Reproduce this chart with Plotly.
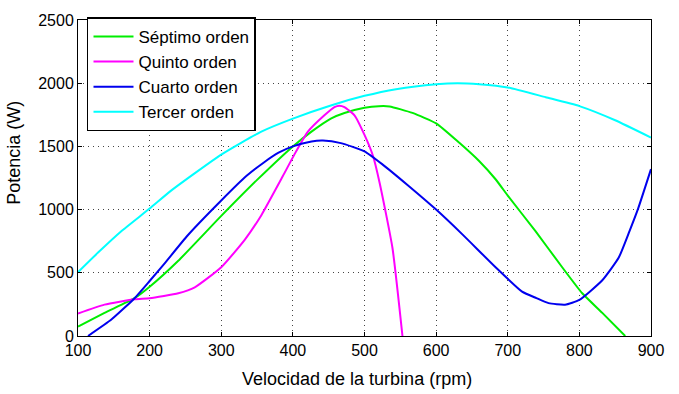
import plotly.graph_objects as go

rpm_g = [100, 137, 179, 200, 240, 300, 350, 400, 426, 453, 472, 500, 520, 535, 567, 600, 632, 660, 683, 700, 739, 776, 804, 832, 864]
p_g = [75, 183, 299, 389, 595, 950, 1235, 1500, 1617, 1720, 1764, 1805, 1818, 1816, 1765, 1682, 1530, 1384, 1240, 1111, 827, 544, 338, 183, 0]

rpm_m = [100, 137, 179, 200, 240, 263, 300, 333, 356, 386, 402, 421, 444, 458, 465, 472, 486, 500, 512, 521, 539, 553]
p_m = [178, 248, 291, 299, 338, 385, 544, 763, 956, 1265, 1435, 1617, 1746, 1811, 1822, 1811, 1746, 1591, 1422, 1215, 698, 0]

rpm_b = [114, 147, 179, 200, 221, 253, 300, 335, 360, 380, 400, 426, 442, 467, 500, 525, 560, 600, 637, 683, 720, 740, 757, 780, 800, 832, 855, 870, 882, 900]
p_b = [0, 132, 299, 435, 575, 795, 1072, 1265, 1375, 1450, 1500, 1539, 1546, 1526, 1461, 1358, 1195, 1000, 802, 544, 351, 300, 260, 248, 286, 441, 621, 830, 1008, 1320]

rpm_c = [100, 128, 160, 200, 230, 300, 356, 400, 453, 500, 544, 600, 630, 660, 700, 753, 800, 850, 900]
p_c = [505, 660, 827, 1008, 1150, 1435, 1617, 1720, 1824, 1900, 1953, 1992, 2000, 1992, 1966, 1889, 1819, 1707, 1570]

series = [
    ("Séptimo orden", rpm_g, p_g, "#00ee00"),
    ("Quinto orden", rpm_m, p_m, "#ff00ff"),
    ("Cuarto orden", rpm_b, p_b, "#0000ee"),
    ("Tercer orden", rpm_c, p_c, "#00ffff"),
]

fig = go.Figure()
for name, x, y, c in series:
    fig.add_trace(go.Scatter(x=x, y=y, name=name, mode="lines",
                             line=dict(color=c, width=2, shape="spline", smoothing=0.5)))

font = "Liberation Sans, Arial, sans-serif"
axis_common = dict(showline=True, linecolor="black", linewidth=1, mirror="ticks",
                   ticks="inside", ticklen=4, tickcolor="black",
                   showgrid=True, gridcolor="#444444", griddash="1px,4px", gridwidth=1,
                   zeroline=False, tickfont=dict(family=font, size=16, color="black"))
fig.update_xaxes(range=[100, 900], tickvals=[100, 200, 300, 400, 500, 600, 700, 800, 900],
                 **axis_common)
fig.update_yaxes(range=[0, 2500], tickvals=[0, 500, 1000, 1500, 2000, 2500],
                 **axis_common)
fig.add_annotation(text="Velocidad de la turbina (rpm)", xref="paper", yref="paper",
                   x=0.487, y=-0.136, xanchor="center", yanchor="middle", showarrow=False,
                   font=dict(family=font, size=18, color="black"))
fig.add_annotation(text="Potencia (W)", xref="paper", yref="paper", textangle=-90,
                   x=-0.112, y=0.579, xanchor="center", yanchor="middle", showarrow=False,
                   font=dict(family=font, size=18, color="black"))
fig.update_layout(
    width=679, height=394,
    margin=dict(l=78, r=28, t=13, b=58),
    plot_bgcolor="white", paper_bgcolor="white",
    font=dict(family=font, color="black"),
    legend=dict(x=0.0157, y=1.008, xanchor="left", yanchor="top",
                bgcolor="white", bordercolor="black", borderwidth=1.5,
                font=dict(family=font, size=17, color="black"),
                itemwidth=40, tracegroupgap=0),
    showlegend=True,
)
fig.write_html("out.html")
